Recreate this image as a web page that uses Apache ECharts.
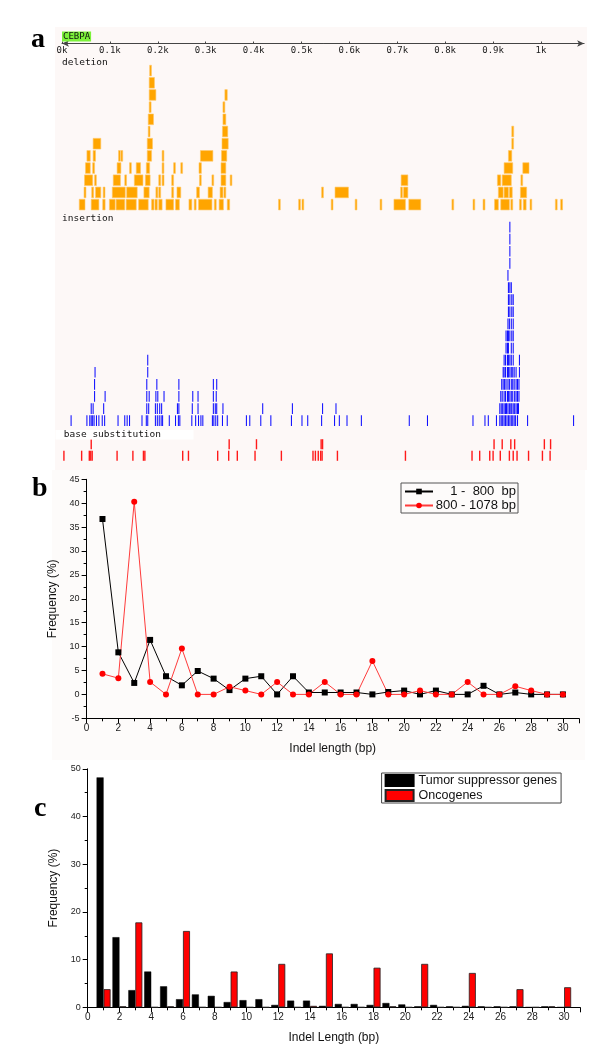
<!DOCTYPE html>
<html><head><meta charset="utf-8">
<script src="https://cdn.jsdelivr.net/npm/echarts@6/dist/echarts.min.js"></script>
<style>html,body{margin:0;padding:0;background:#fff}#c{width:600px;height:1047px}</style>
</head><body><div id="c"></div>
<script>
// ---------- Panel a data (positions in bp) ----------
// deletion rows: each row is a list of [start, end] intervals, row 0 = bottom
const delRows = [
 [[36,48],[61,77],[85,90],[99,111],[113,131],[134,155],[160,180],[187,192],[194,199],[202,209],[217,233],[237,245],[265,271],[276,280],[285,313],[318,322],[328,337],[345,350],[452,455],[494,497],[501,503],[562,565],[612,614],[664,666],[693,717],[724,749],[814,816],[858,860],[879,883],[903,911],[916,934],[937,941],[955,959],[963,969],[977,980],[1030,1032],[1041,1045]],
 [[46,50],[62,66],[70,81],[86,89],[105,132],[135,157],[171,182],[196,200],[202,206],[229,233],[240,248],[281,287],[305,314],[330,336],[338,342],[542,544],[570,598],[707,710],[713,722],[911,921],[923,932],[934,940],[957,970]],
 [[47,64],[68,71],[107,122],[131,134],[151,169],[174,184],[202,206],[209,213],[229,233],[287,290],[313,316],[332,342],[351,354],[708,722],[909,916],[919,938],[958,961]],
 [[49,59],[64,68],[115,123],[141,144],[155,164],[176,183],[209,212],[233,236],[248,251],[286,291],[332,342],[923,941],[962,975]],
 [[52,59],[65,70],[118,120],[123,125],[178,187],[209,212],[289,315],[333,344],[932,939]],
 [[65,81],[178,189],[334,347],[939,942]],
 [[180,183],[335,346],[939,943]],
 [[180,191],[336,342]],
 [[182,186],[336,340]],
 [[182,196],[340,345]],
 [[182,193]],
 [[183,186]]
];
// insertion rows: positions (bp), row 0 = bottom
const insRows = [
 [19,52,58,61,64,67,72,77,84,89,117,131,136,141,167,176,179,195,199,203,207,210,224,237,243,246,271,279,285,290,294,314,317,321,325,335,345,385,392,415,436,479,501,513,542,569,579,595,625,725,763,858,883,890,907,914,917,920,923,926,929,932,935,938,941,944,947,951,972,1068],
 [61,65,87,177,181,195,199,204,208,241,244,272,284,316,320,323,336,419,481,544,572,914,917,920,923,926,928,931,934,937,939,942,945,948,951,953],
 [68,90,177,182,196,200,213,244,273,284,316,322,916,919,923,926,930,932,935,938,941,945,948,951,954],
 [68,177,198,244,316,323,918,921,924,927,931,934,938,941,944,948,951,954],
 [69,179,921,923,926,930,932,935,938,941,944,948,955],
 [179,923,926,930,932,935,938,942,955],
 [927,930,932,938,942],
 [927,930,932,935,939,942],
 [931,934,938,942],
 [932,935,939,942],
 [932,935,939,942],
 [932,935,938],
 [931],
 [935],
 [935],
 [935],
 [935]
];
// base substitution rows
const subRows = [
 [4,41,57,60,63,115,148,170,173,252,264,325,348,366,403,458,524,529,535,540,543,575,717,856,872,893,900,915,934,942,950,974,1003,1019],
 [61,349,406,541,544,902,919,937,945,1007,1020]
];
const geneName = 'CEBPA';
const trackNames = ['deletion', 'insertion', 'base substitution'];

// ---------- Panel b data ----------
const lengthsB = [1,2,3,4,5,6,7,8,9,10,11,12,13,14,15,16,17,18,19,20,21,22,23,24,25,26,27,28,29,30];
const freq1to800 = [36.7,8.8,2.4,11.4,3.8,1.9,4.9,3.3,0.9,3.3,3.8,0,3.8,0.4,0.4,0.4,0.4,0,0.5,0.8,0,0.8,0,0,1.8,0,0.4,0,0,0];
const freq800to1078 = [4.3,3.4,40.3,2.6,0,9.6,0,0,1.6,0.8,0,2.6,0,0,2.6,0,0,7.0,0,0,0.8,0,0,2.6,0,0,1.7,0.8,0,0];
const seriesNamesB = ['1 -  800  bp', '800 - 1078 bp'];

// ---------- Panel c data ----------
const lengthsC = [1,2,3,4,5,6,7,8,9,10,11,12,13,14,15,16,17,18,19,20,21,22,23,24,25,26,27,28,29,30];
const tumorSuppressor = [48.2,14.7,3.6,7.5,4.4,1.7,2.7,2.4,1.1,1.5,1.7,0.5,1.4,1.4,0.3,0.7,0.7,0.5,0.9,0.6,0.2,0.5,0.2,0.3,0.2,0.2,0.2,0,0.2,0];
const oncogenes = [3.8,0.2,17.8,0,0.2,16.0,0,0,7.5,0,0,9.1,0,0.3,11.3,0,0,8.3,0.2,0,9.1,0,0,7.2,0,0,3.8,0,0.2,4.2];
const seriesNamesC = ['Tumor suppressor genes', 'Oncogenes'];

// ---------- build ----------
const delData = [];
delRows.forEach((row, r) => row.forEach(iv => delData.push([iv[0], iv[1], r])));
const insData = [];
insRows.forEach((row, r) => row.forEach(p => insData.push([p, r])));
const subData = [];
subRows.forEach((row, r) => row.forEach(p => subData.push([p, r])));

const BP_MAX = 1090, PXBP = 0.479;
const A_LEFT = 62, A_W = BP_MAX * PXBP;
const MONO = 'DejaVu Sans Mono';
const SANS = 'Liberation Sans';

function tickRender(color, w, gap) {
  return function (params, api) {
    const p0 = api.coord([api.value(0), api.value(1)]);
    const p1 = api.coord([api.value(0), api.value(1) + 1]);
    return { type: 'rect', shape: { x: p0[0] - w / 2, y: p1[1] + gap / 2, width: w, height: (p0[1] - p1[1]) - gap }, style: { fill: color } };
  };
}
function delRender(params, api) {
  const s = api.coord([api.value(0), api.value(2)]);
  const e = api.coord([api.value(1), api.value(2) + 1]);
  const w = Math.max(e[0] - s[0], 1.8);
  return { type: 'rect', shape: { x: s[0], y: e[1] + 0.75, width: w, height: (s[1] - e[1]) - 1.5 },
    style: { fill: '#ffa500', stroke: '#ffc866', lineWidth: 0.6 } };
}

const hiddenX = (gi) => ({ gridIndex: gi, type: 'value', min: 0, max: BP_MAX, show: false });
const hiddenY = (gi, max) => ({ gridIndex: gi, type: 'value', min: 0, max: max, show: false });

const chartAxisX = (gi, name) => ({
  gridIndex: gi, type: 'value', min: 0, max: 31, interval: 2,
  axisLine: { show: true, onZero: false, lineStyle: { color: '#000', width: 1 } },
  axisTick: { show: true, length: 5, lineStyle: { color: '#000' } },
  minorTick: { show: true, splitNumber: 2, length: 3, lineStyle: { color: '#000' } },
  splitLine: { show: false },
  axisLabel: { show: true, fontFamily: SANS, fontSize: 10, color: '#222', margin: 5, showMaxLabel: false },
  name: name, nameLocation: 'middle', nameGap: 24,
  nameTextStyle: { fontFamily: SANS, fontSize: 12, color: '#111' }
});
const chartAxisY = (gi, min, max, interval) => ({
  gridIndex: gi, type: 'value', min: min, max: max, interval: interval,
  axisLine: { show: true, onZero: false, lineStyle: { color: '#000', width: 1 } },
  axisTick: { show: true, length: 5, lineStyle: { color: '#000' } },
  minorTick: { show: true, splitNumber: 2, length: 3, lineStyle: { color: '#000' } },
  splitLine: { show: false },
  axisLabel: { show: true, fontFamily: SANS, fontSize: 9, color: '#222', margin: 7 },
  name: 'Frequency (%)', nameLocation: 'middle', nameGap: 27, nameRotate: 90,
  nameTextStyle: { fontFamily: SANS, fontSize: 12, color: '#111' }
});

const option = {
  animation: false,
  backgroundColor: '#fff',
  grid: [
    { left: A_LEFT, width: A_W, top: 43.5, height: 10, outerBoundsMode: 'none' },
    { left: A_LEFT, width: A_W, top: 64.5, height: 146.2, outerBoundsMode: 'none' },
    { left: A_LEFT, width: A_W, top: 221, height: 205.7, outerBoundsMode: 'none' },
    { left: A_LEFT, width: A_W, top: 438.5, height: 23, outerBoundsMode: 'none' },
    { left: 86.6, right: 21.2, top: 479.3, height: 239, outerBoundsMode: 'none' },
    { left: 87.7, right: 20, top: 768.8, height: 238.5, outerBoundsMode: 'none' }
  ],
  xAxis: [
    { gridIndex: 0, type: 'value', position: 'top', min: 0, max: BP_MAX, interval: 100,
      axisLine: { show: true, onZero: false, symbol: ['arrow', 'arrow'], symbolSize: [5, 7], lineStyle: { color: '#444', width: 1 } },
      axisTick: { show: true, inside: false, length: 2, lineStyle: { color: '#444' } },
      splitLine: { show: false },
      axisLabel: { show: true, inside: true, margin: 3, showMaxLabel: false, fontFamily: MONO, fontSize: 9, color: '#222',
        formatter: v => (v / 1000) + 'k' } },
    hiddenX(1), hiddenX(2), hiddenX(3),
    chartAxisX(4, 'Indel length (bp)'),
    chartAxisX(5, 'Indel Length (bp)')
  ],
  yAxis: [
    hiddenY(0, 1), hiddenY(1, 12), hiddenY(2, 17), hiddenY(3, 2),
    chartAxisY(4, -5, 45, 5),
    chartAxisY(5, 0, 50, 10)
  ],
  legend: [
    { data: seriesNamesB, left: 401, top: 483, orient: 'vertical', selectedMode: false,
      itemWidth: 28, itemHeight: 7, itemGap: 1, padding: [2, 2, 1, 3],
      borderColor: '#555', borderWidth: 1, borderRadius: 0,
      formatter: n => '{r|' + n + '}',
      textStyle: { fontFamily: SANS, fontSize: 13, color: '#111',
        rich: { r: { width: 78, align: 'right', fontFamily: SANS, fontSize: 13, color: '#111' } } } },
    { data: seriesNamesC, left: 381.6, top: 773, orient: 'vertical', selectedMode: false, icon: 'rect',
      itemWidth: 28, itemHeight: 11, itemGap: 2, padding: [1, 4, 1, 3],
      borderColor: '#444', borderWidth: 1, borderRadius: 0,
      textStyle: { fontFamily: SANS, fontSize: 12.5, color: '#111' } }
  ],
  series: [
    { type: 'custom', name: 'deletion', xAxisIndex: 1, yAxisIndex: 1, data: delData, renderItem: delRender,
      encode: { x: [0, 1], y: 2 }, silent: true },
    { type: 'custom', name: 'insertion', xAxisIndex: 2, yAxisIndex: 2, data: insData,
      renderItem: tickRender('#1010ff', 1.05, 1.4), encode: { x: 0, y: 1 }, silent: true },
    { type: 'custom', name: 'base substitution', xAxisIndex: 3, yAxisIndex: 3, data: subData,
      renderItem: tickRender('#ff1a1a', 1.4, 1.4), encode: { x: 0, y: 1 }, silent: true },
    { type: 'line', name: seriesNamesB[0], xAxisIndex: 4, yAxisIndex: 4,
      data: lengthsB.map((x, i) => [x, freq1to800[i]]),
      symbol: 'rect', symbolSize: 6, showAllSymbol: true,
      lineStyle: { color: '#000', width: 1 }, itemStyle: { color: '#000' } },
    { type: 'line', name: seriesNamesB[1], xAxisIndex: 4, yAxisIndex: 4,
      data: lengthsB.map((x, i) => [x, freq800to1078[i]]),
      symbol: 'circle', symbolSize: 6, showAllSymbol: true,
      lineStyle: { color: '#ff3b3b', width: 1 }, itemStyle: { color: '#ff0000' } },
    { type: 'bar', name: seriesNamesC[0], xAxisIndex: 5, yAxisIndex: 5,
      data: lengthsC.map((x, i) => [x, tumorSuppressor[i]]),
      barWidth: 7, barGap: '0%',
      itemStyle: { color: '#000', borderColor: '#000', borderWidth: 0.5 } },
    { type: 'bar', name: seriesNamesC[1], xAxisIndex: 5, yAxisIndex: 5,
      data: lengthsC.map((x, i) => [x, oncogenes[i]]),
      barWidth: 7, barGap: '0%',
      itemStyle: { color: '#ff0000', borderColor: '#222', borderWidth: 0.8 } }
  ],
  graphic: [
    { type: 'rect', z: -5, silent: true, shape: { x: 55, y: 27, width: 532, height: 443 }, style: { fill: '#fdf8f7' } },
    { type: 'rect', z: -5, silent: true, shape: { x: 52, y: 470, width: 533, height: 290 }, style: { fill: '#fdfbfa' } },
    { type: 'text', z: 10, x: 62, y: 36.5, style: { text: geneName, fontFamily: MONO, fontSize: 9, fill: '#111',
      backgroundColor: '#7cf23a', padding: [1, 1, 0, 1], verticalAlign: 'middle' } },
    { type: 'text', z: 10, x: 62, y: 62.3, style: { text: trackNames[0], fontFamily: MONO, fontSize: 9.5, fill: '#111', verticalAlign: 'middle' } },
    { type: 'text', z: 10, x: 62, y: 218.3, style: { text: trackNames[1], fontFamily: MONO, fontSize: 9.5, fill: '#111', verticalAlign: 'middle' } },
    { type: 'rect', z: 9, silent: true, shape: { x: 55.5, y: 430, width: 138, height: 9.5 }, style: { fill: '#ffffff' } },
    { type: 'text', z: 10, x: 63.8, y: 435, style: { text: trackNames[2], fontFamily: MONO, fontSize: 9.5, fill: '#111', verticalAlign: 'middle' } },
    { type: 'text', z: 10, x: 31, y: 54, style: { text: 'a', fontFamily: 'Liberation Serif', fontWeight: 'bold', fontSize: 28, fill: '#000', verticalAlign: 'bottom' } },
    { type: 'text', z: 10, x: 32, y: 503, style: { text: 'b', fontFamily: 'Liberation Serif', fontWeight: 'bold', fontSize: 28, fill: '#000', verticalAlign: 'bottom' } },
    { type: 'text', z: 10, x: 34, y: 823, style: { text: 'c', fontFamily: 'Liberation Serif', fontWeight: 'bold', fontSize: 28, fill: '#000', verticalAlign: 'bottom' } }
  ]
};
const chart = echarts.init(document.getElementById('c'));
chart.setOption(option);
</script>
</body></html>
